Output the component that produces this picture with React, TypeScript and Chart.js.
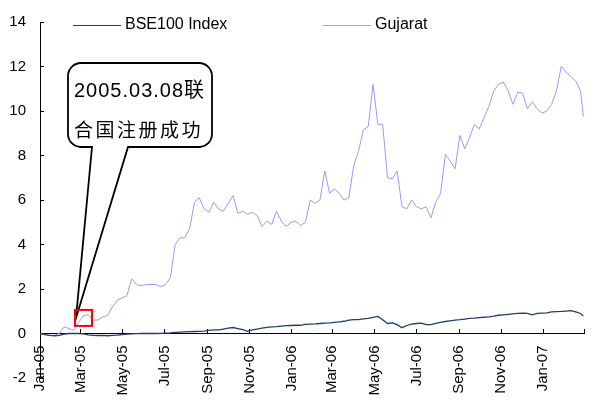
import React, { useEffect, useRef } from 'react';
import { Chart, registerables } from 'chart.js';

Chart.register(...registerables);

// ---------- data ----------
const seriesNames = ['BSE100 Index', 'Gujarat'];
const seriesColors = ['#1F3D6E', '#9999FF'];

const firstDate = '2005-01-01'; // weekly observations start here
const lastDate = '2007-02-28'; // final observation
const axisEndDate = '2007-03-01';

const tickDates = [
  '2005-01-01', '2005-03-01', '2005-05-01', '2005-07-01', '2005-09-01', '2005-11-01',
  '2006-01-01', '2006-03-01', '2006-05-01', '2006-07-01', '2006-09-01', '2006-11-01',
  '2007-01-01', '2007-03-01',
];
const tickLabels = [
  'Jan-05', 'Mar-05', 'May-05', 'Jul-05', 'Sep-05', 'Nov-05',
  'Jan-06', 'Mar-06', 'May-06', 'Jul-06', 'Sep-06', 'Nov-06',
  'Jan-07', '',
];

const yMin = -2;
const yMax = 14;
const yStep = 2;

const bseValues = [
  0, -0.05, -0.08, -0.1, -0.08, -0.03, 0.0, 0.01, 0.0, -0.02,
  -0.06, -0.08, -0.09, -0.08, -0.1, -0.08, -0.07, -0.05, -0.03, -0.02,
  -0.01, 0.0, 0.0, 0.01, 0.0, 0.01, 0.02, 0.03, 0.05, 0.06,
  0.07, 0.08, 0.09, 0.1, 0.11, 0.14, 0.16, 0.16, 0.2, 0.24,
  0.27, 0.22, 0.17, 0.1, 0.16, 0.2, 0.24, 0.28, 0.3, 0.31,
  0.33, 0.35, 0.36, 0.37, 0.37, 0.41, 0.42, 0.43, 0.45, 0.47,
  0.48, 0.5, 0.52, 0.55, 0.6, 0.62, 0.62, 0.66, 0.68, 0.72,
  0.77, 0.62, 0.45, 0.48, 0.4, 0.26, 0.36, 0.42, 0.45, 0.47,
  0.4, 0.4, 0.46, 0.5, 0.54, 0.57, 0.6, 0.62, 0.65, 0.68,
  0.69, 0.71, 0.73, 0.75, 0.78, 0.82, 0.84, 0.86, 0.88, 0.9,
  0.92, 0.9, 0.84, 0.9, 0.92, 0.93, 0.97, 0.98, 0.99, 1.01,
  1.03, 0.97, 0.9, 0.78,
];

const gujaratValues = [
  0, -0.05, -0.08, -0.08, 0.0, 0.3, 0.22, 0.15, 0.5, 0.8,
  0.85, 0.6, 0.6, 0.75, 0.8, 1.2, 1.5, 1.6, 1.7, 2.45,
  2.2, 2.15, 2.2, 2.2, 2.2, 2.1, 2.2, 2.5, 4.0, 4.3,
  4.3, 4.7, 5.9, 6.1, 5.6, 5.45, 5.9, 5.6, 5.5, 5.85,
  6.2, 5.4, 5.5, 5.35, 5.45, 5.3, 4.8, 5.05, 4.9, 5.5,
  5.05, 4.8, 5.0, 5.05, 4.85, 5.0, 6.0, 5.85, 6.0, 7.3,
  6.3, 6.5, 6.3, 6.0, 6.1, 7.55, 8.2, 9.15, 9.3, 11.2,
  9.4, 9.4, 7.0, 6.95, 7.3, 5.7, 5.6, 6.0, 5.7, 5.6,
  5.7, 5.2, 5.9, 6.3, 8.05, 7.75, 7.4, 8.9, 8.3, 8.8,
  9.4, 9.2, 9.7, 10.2, 10.9, 11.2, 11.3, 10.9, 10.3, 10.85,
  10.8, 10.1, 10.4, 10.1, 9.9, 10.0, 10.3, 10.9, 12.0, 11.75,
  11.55, 11.35, 10.9, 9.75,
];

const noteDate = '2005-03-08';
const noteValue = 0.7;
const noteLines = ['2005.03.08联', '合国注册成功'];

// ---------- helpers ----------
const dayOf = (s: string) => (Date.parse(s) - Date.parse(firstDate)) / 86400000;

const toPoints = (values: number[]) =>
  values.map((v, i) => ({ x: i === values.length - 1 ? dayOf(lastDate) : i * 7, y: v }));

const FONT = '"Liberation Sans", Arial, sans-serif';

const zeroPadding = (scale: any) => {
  scale.paddingLeft = 0;
  scale.paddingRight = 0;
  scale.paddingTop = 0;
  scale.paddingBottom = 0;
};

const legendPlugin = {
  id: 'customLegend',
  afterDraw(chart: any) {
    const ctx = chart.ctx;
    const items = [
      { lineX: 73, textX: 125 },
      { lineX: 323, textX: 375 },
    ];
    ctx.save();
    chart.data.datasets.forEach((ds: any, i: number) => {
      const p = items[i];
      ctx.strokeStyle = ds.borderColor;
      ctx.lineWidth = 1;
      ctx.beginPath();
      ctx.moveTo(p.lineX, 25.5);
      ctx.lineTo(p.lineX + 48, 25.5);
      ctx.stroke();
      ctx.fillStyle = '#000';
      ctx.font = `16px ${FONT}`;
      ctx.textBaseline = 'middle';
      ctx.textAlign = 'left';
      ctx.fillText(ds.label, p.textX, 25);
    });
    ctx.restore();
  },
};

const calloutPlugin = {
  id: 'callout',
  afterDatasetsDraw(chart: any) {
    const { ctx, scales } = chart;
    const ax = scales.x.getPixelForValue(dayOf(noteDate));
    const ay = scales.y.getPixelForValue(noteValue);
    const L = 68, T = 63, R = 212, B = 147, r = 13, g1 = 92, g2 = 128;
    const tipX = ax - 9.5;
    const tipY = ay;
    ctx.save();
    ctx.beginPath();
    ctx.moveTo(g1, B);
    ctx.lineTo(tipX, tipY);
    ctx.lineTo(g2, B);
    ctx.lineTo(R - r, B);
    ctx.arcTo(R, B, R, B - r, r);
    ctx.lineTo(R, T + r);
    ctx.arcTo(R, T, R - r, T, r);
    ctx.lineTo(L + r, T);
    ctx.arcTo(L, T, L, T + r, r);
    ctx.lineTo(L, B - r);
    ctx.arcTo(L, B, L + r, B, r);
    ctx.closePath();
    ctx.fillStyle = '#fff';
    ctx.fill();
    ctx.lineWidth = 1.8;
    ctx.strokeStyle = '#000';
    ctx.lineJoin = 'miter';
    ctx.stroke();

    ctx.fillStyle = '#000';
    ctx.textAlign = 'left';
    ctx.textBaseline = 'alphabetic';
    ctx.font = `20px "Liberation Sans", "Noto Sans CJK SC", sans-serif`;
    (ctx as any).letterSpacing = '1px';
    ctx.fillText(noteLines[0], 74, 97);
    ctx.font = `19px "Noto Sans CJK SC", sans-serif`;
    (ctx as any).letterSpacing = '2.5px';
    ctx.fillText(noteLines[1], 74, 137);
    (ctx as any).letterSpacing = '0px';

    ctx.strokeStyle = '#FF0000';
    ctx.lineWidth = 2;
    ctx.strokeRect(ax - 10.5, ay - 8, 17, 16);
    ctx.restore();
  },
};

export default function App() {
  const canvasRef = useRef<HTMLCanvasElement | null>(null);

  useEffect(() => {
    if (!canvasRef.current) return;
    const tickValues = tickDates.map(dayOf);
    const chart = new Chart(canvasRef.current, {
      type: 'line',
      data: {
        datasets: [
          {
            label: seriesNames[0],
            data: toPoints(bseValues),
            borderColor: seriesColors[0],
            backgroundColor: seriesColors[0],
            borderWidth: 1.3,
            pointRadius: 0,
            tension: 0,
            fill: false,
          },
          {
            label: seriesNames[1],
            data: toPoints(gujaratValues),
            borderColor: seriesColors[1],
            backgroundColor: seriesColors[1],
            borderWidth: 1,
            pointRadius: 0,
            tension: 0,
            fill: false,
          },
        ],
      },
      options: {
        animation: false,
        responsive: false,
        events: [],
        layout: { padding: { left: 0, top: 22, right: 17, bottom: 23 } },
        plugins: {
          legend: { display: false },
          tooltip: { enabled: false },
        },
        scales: {
          x: {
            type: 'linear',
            position: { y: 0 } as any,
            min: 0,
            max: dayOf(axisEndDate),
            bounds: 'data',
            afterBuildTicks: (scale: any) => {
              scale.ticks = tickValues.map((v) => ({ value: v }));
            },
            afterFit: (scale: any) => {
              scale.height = 0;
              zeroPadding(scale);
            },
            grid: { drawOnChartArea: false, tickLength: -5, color: '#000', lineWidth: 1 },
            border: { color: '#000', width: 1 },
            ticks: {
              autoSkip: false,
              maxRotation: 90,
              minRotation: 90,
              padding: 17,
              color: '#000',
              font: { family: FONT, size: 15 },
              callback: (_v: any, i: number) => tickLabels[i] ?? '',
            },
          },
          y: {
            type: 'linear',
            min: yMin,
            max: yMax,
            afterFit: (scale: any) => {
              scale.width = 40;
              zeroPadding(scale);
            },
            grid: { drawOnChartArea: false, tickLength: -4, color: '#000', lineWidth: 1 },
            border: { color: '#000', width: 1 },
            ticks: {
              stepSize: yStep,
              padding: 18,
              color: '#000',
              font: { family: FONT, size: 15 },
            },
          },
        },
      } as any,
      plugins: [legendPlugin, calloutPlugin],
    });
    return () => chart.destroy();
  }, []);

  return (
    <div style={{ position: 'absolute', left: 0, top: 0, width: 601, height: 401, background: '#fff' }}>
      <canvas ref={canvasRef} width={601} height={401} style={{ display: 'block' }} />
    </div>
  );
}
